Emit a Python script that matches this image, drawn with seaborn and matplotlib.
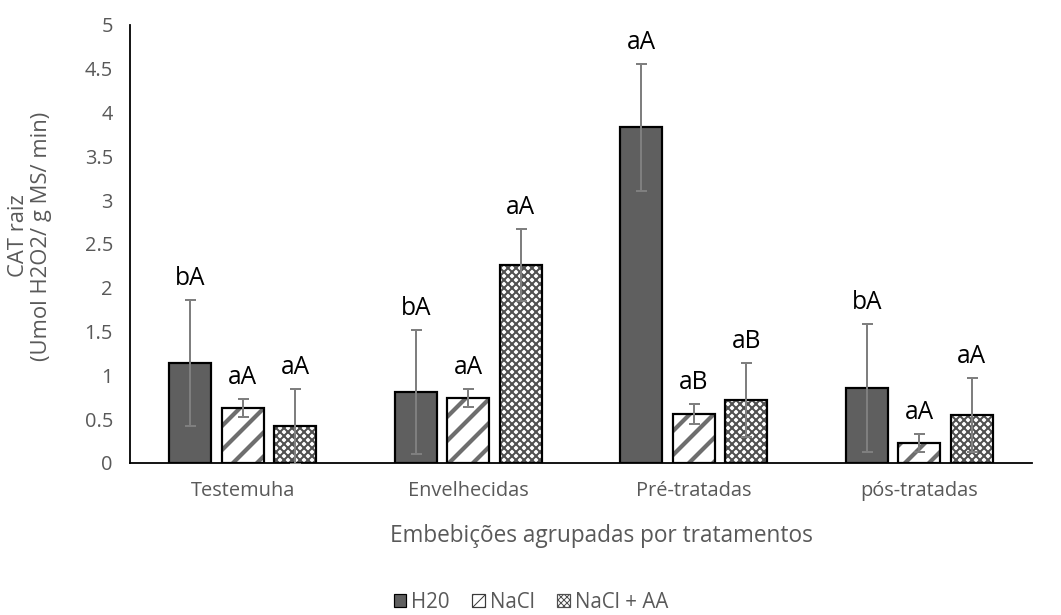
import matplotlib
matplotlib.use("Agg")
import matplotlib.pyplot as plt
from matplotlib.patches import Rectangle, Patch
import numpy as np
import pandas as pd
import seaborn as sns

# CAT activity in roots, by imbibition group and solution
grupos = ["Testemuha", "Envelhecidas", "Pré-tratadas", "pós-tratadas"]
series = ["H20", "NaCl", "NaCl + AA"]

h2o = [1.14, 0.81, 3.83, 0.86]
h2o_err = [0.72, 0.71, 0.73, 0.73]
nacl = [0.63, 0.74, 0.56, 0.23]
nacl_err = [0.10, 0.10, 0.11, 0.10]
nacl_aa = [0.42, 2.26, 0.72, 0.55]
nacl_aa_err = [0.43, 0.41, 0.42, 0.42]

letras_h2o = ["bA", "bA", "aA", "bA"]
letras_nacl = ["aA", "aA", "aB", "aA"]
letras_nacl_aa = ["aA", "aA", "aB", "aA"]

erros = [h2o_err, nacl_err, nacl_aa_err]
letras = [letras_h2o, letras_nacl, letras_nacl_aa]

df = pd.DataFrame({
    "grupo": grupos * 3,
    "serie": [s for s in series for _ in grupos],
    "valor": h2o + nacl + nacl_aa,
})

sns.set_theme(style="white")
plt.rcParams["font.family"] = ["Open Sans", "DejaVu Sans"]

TXT = "#595959"
ERR = "#7f7f7f"
STRIPE = "#6e6e6e"
CHECK = "#505050"
W, H = 1061, 615

# 72 dpi: one point equals one pixel, and the hatch tile is 72 px wide
fig = plt.figure(figsize=(W / 72, H / 72), dpi=72)
ax = fig.add_axes([130 / W, 1 - 463 / H, 902 / W, 438 / H])

sns.barplot(data=df, x="grupo", y="valor", hue="serie", order=grupos,
            hue_order=series, palette=["#5f5f5f", "white", "white"],
            width=0.7, gap=0.2, errorbar=None, edgecolor="black",
            linewidth=2.2, legend=False, ax=ax)

bar_containers = list(ax.containers)
hatches = [None, "/", "xxx"]
hatch_cols = [None, STRIPE, CHECK]
hatch_lw = [None, 4.2, 2.0]
for k, cont in enumerate(bar_containers):
    for i, bar in enumerate(cont.patches):
        x = bar.get_x() + bar.get_width() / 2
        top = bar.get_height()
        if hatches[k]:
            bar.set_hatch(hatches[k])
            bar.set_edgecolor(hatch_cols[k])
            bar.set_linewidth(0)
            if hasattr(bar, "set_hatch_linewidth"):
                bar.set_hatch_linewidth(hatch_lw[k])
            ax.add_patch(Rectangle((bar.get_x(), bar.get_y()), bar.get_width(),
                                   bar.get_height(), fill=False,
                                   edgecolor="black", linewidth=2.2, zorder=3))
        ax.errorbar(x, top, yerr=erros[k][i], fmt="none", ecolor=ERR,
                    elinewidth=2, capsize=5.5, capthick=2, zorder=4)
        ax.annotate(letras[k][i], (x, top + erros[k][i]), xytext=(0, 9),
                    textcoords="offset points", ha="center", va="bottom",
                    fontsize=24.5, color="black")

ticks = np.arange(0, 5.01, 0.5)
ax.set_ylim(0, 5)
ax.set_yticks(ticks)
ax.set_yticklabels([f"{v:g}" for v in ticks])
ax.set_xlim(-0.5, 3.5)
ax.tick_params(axis="both", length=0, labelsize=20, colors=TXT)
ax.tick_params(axis="y", pad=17)
ax.tick_params(axis="x", pad=18)
for s in ["top", "right"]:
    ax.spines[s].set_visible(False)
for s in ["left", "bottom"]:
    ax.spines[s].set_color("black")
    ax.spines[s].set_linewidth(1.8)

ax.set_xlabel("")
ax.set_ylabel("")
fig.text(30 / W, 1 - 236 / H, "CAT raiz\n(Umol H2O2/ g MS/ min)", rotation=90,
         ha="center", va="center", multialignment="center", fontsize=22,
         color=TXT, linespacing=1.1)
fig.text(601 / W, 1 - 536 / H, "Embebições agrupadas por tratamentos",
         ha="center", va="center", fontsize=22.6, color=TXT)

handles = [Patch(facecolor="#5f5f5f", edgecolor="black", linewidth=1.2),
           Patch(facecolor="white", edgecolor="#3a3a3a", hatch="//", linewidth=1.2),
           Patch(facecolor="white", edgecolor=CHECK, hatch="xxxx", linewidth=1.2)]
leg = fig.legend(handles, series, loc="center", bbox_to_anchor=(531 / W, 1 - 602 / H),
                 ncol=3, frameon=False, fontsize=20.5, handlelength=0.6,
                 handleheight=0.6, handletextpad=0.25, columnspacing=1.1)
for t in leg.get_texts():
    t.set_color(TXT)

fig.savefig("out.png", dpi=72)
